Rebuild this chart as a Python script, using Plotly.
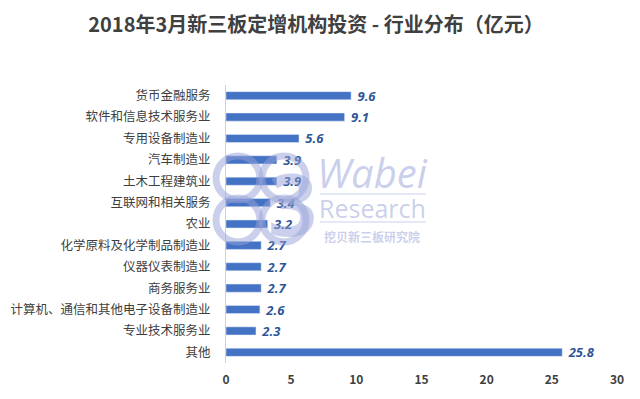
import plotly.graph_objects as go

categories = ["货币金融服务", "软件和信息技术服务业", "专用设备制造业", "汽车制造业", "土木工程建筑业",
              "互联网和相关服务", "农业", "化学原料及化学制品制造业", "仪器仪表制造业", "商务服务业",
              "计算机、通信和其他电子设备制造业", "专业技术服务业", "其他"]
values = [9.6, 9.1, 5.6, 3.9, 3.9, 3.4, 3.2, 2.7, 2.7, 2.7, 2.6, 2.3, 25.8]
x_ticks = [0, 5, 10, 15, 20, 25, 30]

font_family = "Noto Sans CJK SC, Open Sans, sans-serif"

OFF = 8  # page body margin of the browser
SW, SH = 640, 399
W, H = SW - OFF, SH - OFF
# plot area in screen pixels
SL, SR, ST, SB = 226, 617, 85, 363
L, R, T, B = SL - OFF, SW - SR, ST - OFF, SH - SB
pw, ph = W - L - R, H - T - B


def px(x):
    return (x - SL) / pw


def py(y):
    return (SB - y) / ph


fig = go.Figure()
fig.add_trace(go.Bar(
    y=categories, x=values, orientation="h",
    marker=dict(color="#4472C4"),
    text=[f" {v:.1f}" for v in values], textposition="outside", constraintext="none",
    textfont=dict(family="Open Sans, sans-serif", size=13, color="#2F5597", style="italic", weight="bold"),
    cliponaxis=False, width=0.38,
))

wm = "rgba(150,162,215,0.5)"
# watermark logo: cloud lobes and a big 3
for cx, cy in [(238, 178), (284, 178), (238, 220), (284, 220)]:
    r = 22
    fig.add_shape(type="circle", xref="paper", yref="paper",
                  x0=px(cx - r), x1=px(cx + r), y0=py(cy + r), y1=py(cy - r),
                  line=dict(color=wm, width=7), layer="above")
fig.add_annotation(x=px(266), y=py(202), xref="paper", yref="paper", yanchor="middle",
                   text="3", showarrow=False,
                   font=dict(family="Open Sans, sans-serif", size=86, color=wm, weight="bold"))
fig.add_annotation(x=px(372), y=py(172), xref="paper", yref="paper", yanchor="middle",
                   text="Wabei", showarrow=False,
                   font=dict(family="Open Sans, sans-serif", size=40, color=wm, style="italic"))
fig.add_annotation(x=px(372), y=py(208), xref="paper", yref="paper", yanchor="middle",
                   text="Research", showarrow=False,
                   font=dict(family="Open Sans, sans-serif", size=25, color=wm))
fig.add_annotation(x=px(372), y=py(236), xref="paper", yref="paper", yanchor="middle",
                   text="挖贝新三板研究院", showarrow=False,
                   font=dict(family=font_family, size=12, color=wm, weight="bold"))
for ly in [194, 222]:
    fig.add_shape(type="line", xref="paper", yref="paper",
                  x0=px(320), x1=px(426), y0=py(ly), y1=py(ly),
                  line=dict(color=wm, width=1))

fig.update_layout(
    width=W, height=H,
    margin=dict(l=L, r=R, t=T, b=B),
    paper_bgcolor="white", plot_bgcolor="white",
    title=dict(text="2018年3月新三板定增机构投资 - 行业分布（亿元）", x=(316 - OFF) / W, xanchor="center",
               y=1 - (25 - OFF) / H, yanchor="middle",
               font=dict(family=font_family, size=20, color="#404040", weight="bold")),
    showlegend=False,
    xaxis=dict(range=[0, 30], tickvals=x_ticks, showgrid=False, zeroline=False, showline=False,
               tickfont=dict(family=font_family, size=12, color="#404040", weight="bold"), ticks="",
               ticklabelstandoff=8, automargin=False),
    yaxis=dict(autorange="reversed", showline=True, linecolor="#D0D0D0", linewidth=1, ticks="",
               tickfont=dict(family=font_family, size=12.5, color="#404040"), showgrid=False,
               ticklabelstandoff=12, automargin=False),
)

fig.write_html("out.html")
